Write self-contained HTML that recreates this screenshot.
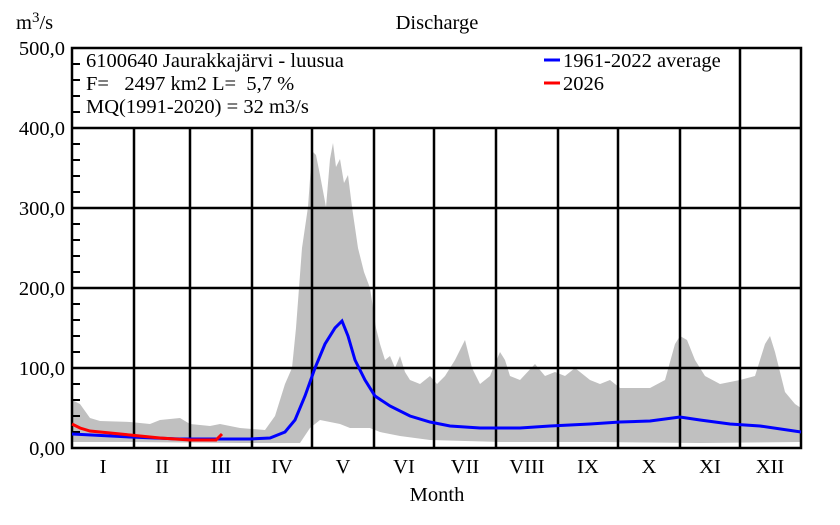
<!DOCTYPE html>
<html><head><meta charset="utf-8"><style>body{margin:0;background:#fff}svg text{font-family:"Liberation Serif",serif;font-size:20.5px;fill:#000}</style></head><body>
<svg width="840" height="520" viewBox="0 0 840 520" xmlns="http://www.w3.org/2000/svg">
<polygon fill="#c0c0c0" points="
72,400 80,404 90,418 100,421 130,422 150,424 160,420 180,418 190,424 210,426 220,424 240,428 265,430 275,416 285,384 292,368 296,328 302,248 308,207 312,151 316,155 320,175 326,207 330,159 333,143 336,167 340,159 344,183 348,175 352,207 358,248 364,272 370,288 376,328 380,344 385,360 390,356 395,368 400,356 405,372 410,380 420,384 430,376 437,384 445,376 455,360 465,340 472,368 480,384 490,376 500,352 505,360 510,376 520,380 535,364 545,376 555,372 565,376 575,368 590,380 600,384 610,380 620,388 630,388 650,388 665,380 675,344 680,336 687,340 695,360 705,376 720,384 740,380 755,376 765,344 770,336 775,352 785,392 795,404 801,408
801,442 700,443 600,442 500,442 430,440 400,436 380,432 370,428 350,428 340,424 320,420 310,428 300,443 240,443 130,442 72,442"/>
<g stroke="#000" stroke-width="2.5" fill="none">
<line x1="72" y1="368" x2="801" y2="368"/><line x1="72" y1="288" x2="801" y2="288"/><line x1="72" y1="208" x2="801" y2="208"/><line x1="72" y1="128" x2="801" y2="128"/>
<line x1="134" y1="128" x2="134" y2="448"/><line x1="190" y1="128" x2="190" y2="448"/><line x1="252" y1="128" x2="252" y2="448"/><line x1="312" y1="128" x2="312" y2="448"/><line x1="374" y1="128" x2="374" y2="448"/><line x1="434" y1="128" x2="434" y2="448"/><line x1="496" y1="128" x2="496" y2="448"/><line x1="558" y1="128" x2="558" y2="448"/><line x1="618" y1="128" x2="618" y2="448"/><line x1="680" y1="128" x2="680" y2="448"/><line x1="740" y1="48" x2="740" y2="448"/>
<rect x="72" y="48" width="729" height="400"/>
</g>
<g stroke="#000" stroke-width="2">
<path d="M72 432h8M72 416h8M72 400h8M72 384h8M72 352h8M72 336h8M72 320h8M72 304h8M72 272h8M72 256h8M72 240h8M72 224h8M72 192h8M72 176h8M72 160h8M72 144h8M72 112h8M72 96h8M72 80h8M72 64h8"/>
</g>
<polyline fill="none" stroke="#0000ff" stroke-width="3" points="72,434 130,437 180,439 250,439 270,438 285,432 295,420 305,396 315,368 325,344 335,328 342,321 348,336 355,360 365,380 375,396 390,406 410,416 430,422 450,426 480,428 520,428 550,426 590,424 620,422 650,421 680,417 700,420 730,424 760,426 801,432"/>
<polyline fill="none" stroke="#ff0000" stroke-width="3" points="72,424 80,428 90,431 130,435 160,438 190,440 216,440 222,434"/>
<line x1="544" y1="60" x2="560" y2="60" stroke="#0000ff" stroke-width="3"/>
<line x1="544" y1="83" x2="560" y2="83" stroke="#ff0000" stroke-width="3"/>
<text x="563" y="67">1961-2022 average</text>
<text x="563" y="90">2026</text>
<text x="86" y="67">6100640 Jaurakkajärvi - luusua</text>
<text x="86" y="90" xml:space="preserve">F=   2497 km2 L=  5,7 %</text>
<text x="86" y="113">MQ(1991-2020) = 32 m3/s</text>
<text x="16" y="29">m<tspan dy="-7" font-size="15">3</tspan><tspan dy="7">/s</tspan></text>
<text x="437" y="29" text-anchor="middle">Discharge</text>
<text x="437" y="501" text-anchor="middle">Month</text>
<g text-anchor="end"><text x="65" y="55">500,0</text><text x="65" y="135">400,0</text><text x="65" y="215">300,0</text><text x="65" y="295">200,0</text><text x="65" y="375">100,0</text><text x="65" y="455">0,00</text></g>
<g text-anchor="middle"><text x="103" y="473">I</text><text x="162" y="473">II</text><text x="221" y="473">III</text><text x="282" y="473">IV</text><text x="343" y="473">V</text><text x="404" y="473">VI</text><text x="465" y="473">VII</text><text x="527" y="473">VIII</text><text x="588" y="473">IX</text><text x="649" y="473">X</text><text x="710" y="473">XI</text><text x="770" y="473">XII</text></g>
</svg>
</body></html>
